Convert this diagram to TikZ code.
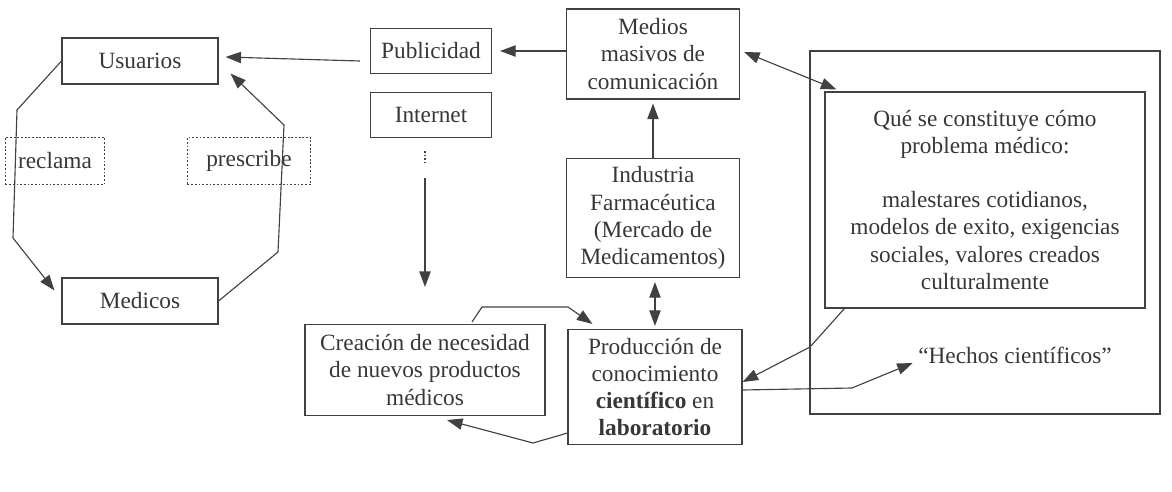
\documentclass[tikz,border=0pt]{standalone}
\usepackage{fontspec}
\setmainfont{Liberation Serif}
\usepackage{tikz}
\usepackage{xcolor}
\usetikzlibrary{arrows.meta}

\begin{document}
\begin{tikzpicture}[x=0.708pt,y=-0.708pt,
  caja/.style={draw=lineColor,line width=0.8pt,text=textColor,align=center,inner sep=0pt,
    font=\fontsize{16.5}{19.2}\selectfont},
  punteada/.style={caja,dash pattern=on 1.3pt off 1.3pt,line width=0.8pt},
  flecha/.style={draw=lineColor,line width=0.8pt,-{Triangle[length=11pt,width=8pt]}},
  dobleflecha/.style={flecha,{Triangle[length=11pt,width=8pt]}-{Triangle[length=11pt,width=8pt]}}]
\definecolor{lineColor}{RGB}{65,65,65}
\definecolor{textColor}{RGB}{55,55,55}
\useasboundingbox (0,0) rectangle (1172,492);
% left loop
\node[caja,minimum width=110.4pt,minimum height=32.6pt] (usuarios) at (140,61) {Usuarios};
\node[caja,minimum width=110.4pt,minimum height=32.6pt] (medicos) at (140,301) {Medicos};
\node[punteada,minimum width=70.1pt,minimum height=33.3pt] (reclama) at (55,161) {reclama};
\node[punteada,minimum width=87.1pt,minimum height=33.3pt] (prescribe) at (249,161) {prescribe};
% middle column
\node[caja,minimum width=85.7pt,minimum height=31.9pt] (publicidad) at (431,51) {Publicidad};
\node[caja,minimum width=85.7pt,minimum height=31.9pt] (internet) at (431,115) {Internet};
\node[caja,minimum width=122.5pt,minimum height=63.7pt] (medios) at (653,54) {Medios\\masivos de\\comunicación};
\node[caja,minimum width=122.5pt,minimum height=84.3pt] (industria) at (653,218) {Industria\\Farmacéutica\\(Mercado de\\Medicamentos)};
\node[caja,minimum width=123.2pt,minimum height=81.4pt] (produccion) at (655,387) {Producción de\\conocimiento\\\textbf{científico} en\\\textbf{laboratorio}};
\node[caja,minimum width=169.9pt,minimum height=64.4pt] (creacion) at (425,370) {Creación de necesidad\\de nuevos productos\\médicos};
% right frame
\node[caja,minimum width=247.8pt,minimum height=257pt] (marco) at (985,232.5) {};
\node[caja,minimum width=226.6pt,minimum height=152.9pt] (problema) at (985,200) {Qué se constituye cómo\\problema médico:\\[19pt]malestares cotidianos,\\modelos de exito, exigencias\\sociales, valores creados\\culturalmente};
\node[caja,draw=none] (hechos) at (1015,355) {“Hechos científicos”};
\coordinate (necesidad) at (425,287);

\draw[flecha] (usuarios.west) -- (17,110) -- (13,238) -- ([shift={(-7,13)}]medicos.north west);
\draw[flecha] (medicos.east) -- (278,252) -- (284,125) -- ([shift={(12,-11)}]usuarios.south east);
\draw[flecha] ([shift={(-10,10)}]publicidad.west) -- ([shift={(7,-4)}]usuarios.east);
\draw[flecha] ([shift={(0,-3)}]medios.west) -- ([shift={(8,0)}]publicidad.east);
\draw[flecha] (industria.north) -- ([shift={(0,4)}]medios.south);
\draw[dobleflecha] ([shift={(2,4)}]industria.south) -- ([shift={(0,-3)}]produccion.north);
\draw[dobleflecha] ([shift={(4,-2)}]medios.east) -- ([shift={(12,-2)}]problema.north west);
\draw[draw=lineColor,line width=0.8pt,dash pattern=on 1pt off 1.5pt] ([shift={(-6,13)}]internet.south) -- ([shift={(-6,25)}]internet.south);
\draw[flecha] ([shift={(-6,40)}]internet.south) -- (necesidad);
\draw[flecha] ([shift={(47,-2)}]creacion.north) -- (482,307) -- (568,307) -- ([shift={(25,-5)}]produccion.north west);
\draw[flecha] ([shift={(0,-12)}]produccion.south east -| produccion.west) -- (533,443) -- ([shift={(22,4)}]creacion.south);
\draw[flecha] ([shift={(20,0)}]problema.south west) -- (810,347) -- ([shift={(0,-5)}]produccion.east);
\draw[flecha] ([shift={(0,3)}]produccion.east) -- (852,388) -- ([shift={(-5,8)}]hechos.west);
\end{tikzpicture}
\end{document}
